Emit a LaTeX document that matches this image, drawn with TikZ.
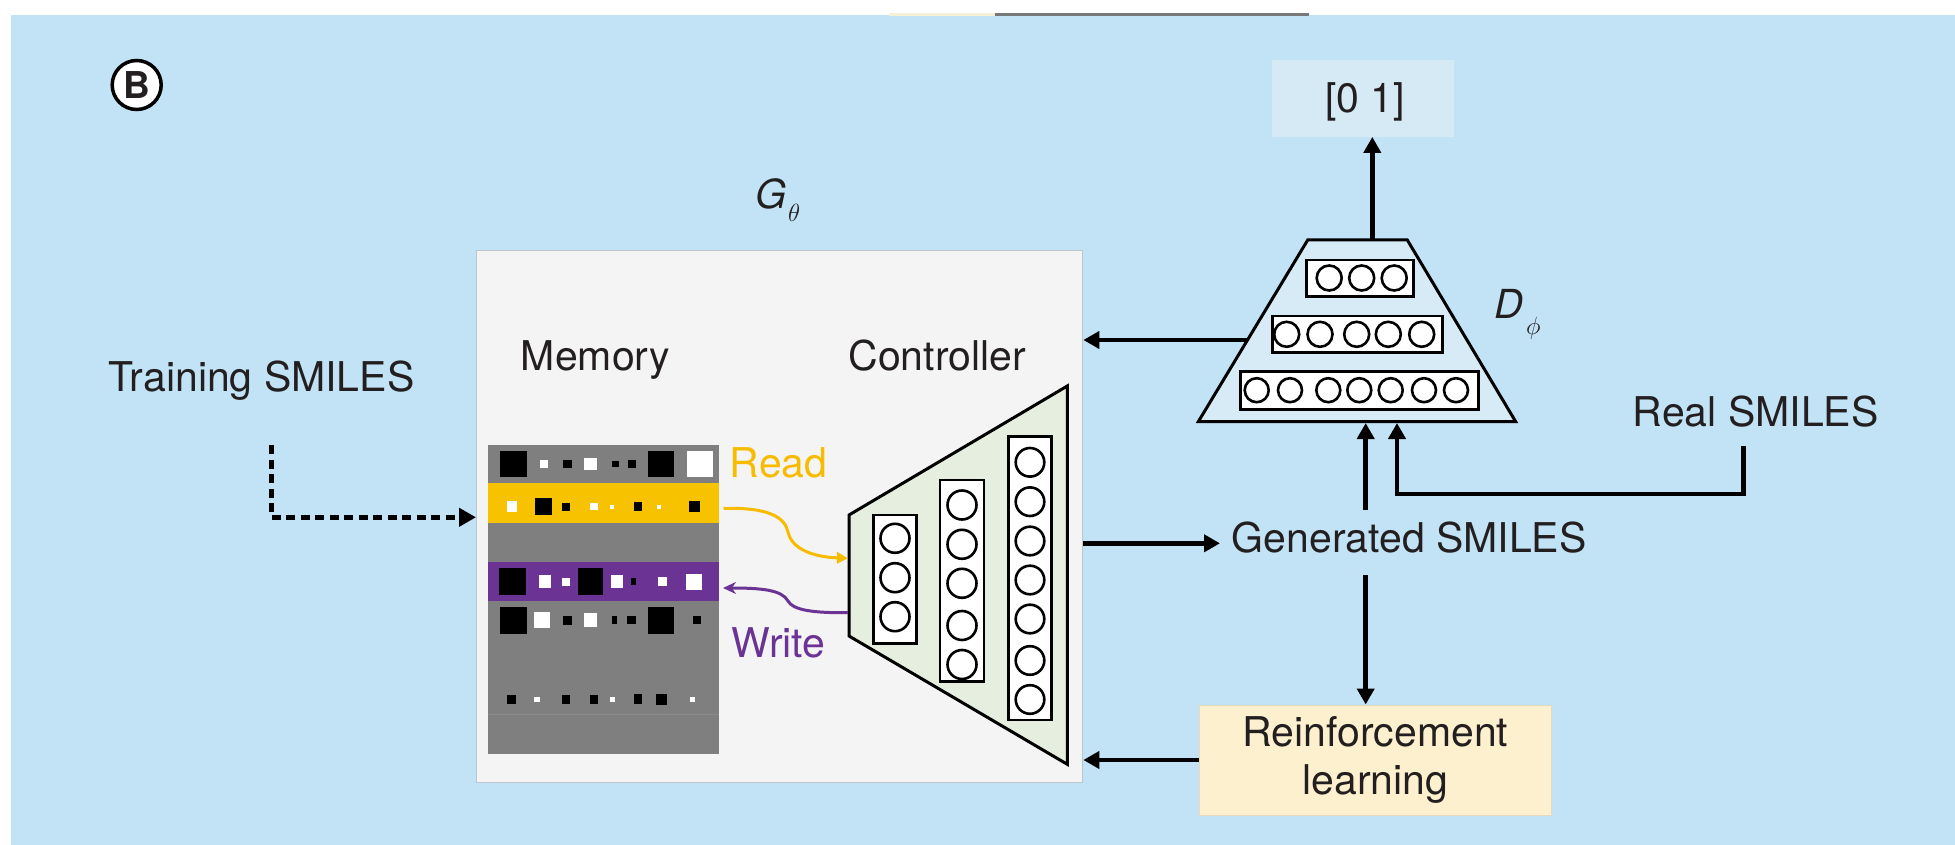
\documentclass[tikz,border=0pt]{standalone}
\usepackage{fontspec}
\setmainfont{TeX Gyre Heros}
\usetikzlibrary{arrows.meta}

\definecolor{bgblue}{RGB}{194,226,245}
\definecolor{ink}{RGB}{35,31,32}
\definecolor{boxgray}{RGB}{244,244,244}
\definecolor{boxedge}{RGB}{190,198,204}
\definecolor{memgray}{RGB}{127,127,127}
\definecolor{memline}{RGB}{138,138,138}
\definecolor{memyellow}{RGB}{247,194,0}
\definecolor{mempurple}{RGB}{107,51,148}
\definecolor{readc}{RGB}{247,188,0}
\definecolor{ctlgreen}{RGB}{230,239,223}
\definecolor{discblue}{RGB}{214,235,246}
\definecolor{outblue}{RGB}{214,234,245}
\definecolor{rlcream}{RGB}{253,240,206}
\definecolor{rledge}{RGB}{228,218,190}
\definecolor{topgray}{RGB}{120,120,120}
\definecolor{topcream}{RGB}{246,240,214}

\tikzset{
  lbl/.style={font=\fontsize{41}{48.3}\selectfont, text=ink, inner sep=0pt},
  arr/.style={draw=black, line width=4.5pt, -{Triangle[length=16pt,width=17pt]}},
  unit/.style={draw=black, line width=2.6pt, fill=white},
  layerbox/.style={draw=black, line width=2.6pt, fill=white},
  trap/.style={draw=black, line width=3pt, line join=miter},
}

\begin{document}
\begin{tikzpicture}[x=1pt,y=-1pt]
\useasboundingbox (0,0) rectangle (1955,845);

% page and panel background
\fill[white] (0,0) rectangle (1955,845);
\fill[bgblue] (11,15) rectangle (1955,845);
\fill[topcream] (889,13.5) rectangle (995,16);
\fill[topgray] (995,13.5) rectangle (1309,16);

% panel letter
\node[circle, draw=black, line width=3.5pt, fill=white, minimum size=49pt,
      inner sep=0pt, text=ink, font=\fontsize{37}{37}\selectfont\bfseries] (panel) at (136.7,85) {B};

% generator frame
\node[draw=boxedge, fill=boxgray, line width=1.5pt, inner sep=0pt,
      minimum width=606pt, minimum height=532pt] (G) at (779.6,516.6) {};
\node[lbl, font=\fontsize{40}{40}\selectfont\itshape, anchor=base west] (gname) at (755,208.3) {G};
\node[inner sep=0pt, text=ink, font=\fontsize{27}{27}\selectfont, anchor=base west] (gsub) at (788,222) {$\theta$};

\node[lbl, anchor=base west] (memlbl) at (520.7,370) {Memory};
\node[lbl, anchor=base west] (ctllbl) at (848.3,370) {Controller};

% memory matrix
\node[fill=memgray, inner sep=0pt, minimum width=230.4pt, minimum height=309.3pt] (mem) at (603.5,599.65) {};
\fill[memyellow] (488.3,483.3) rectangle (718.7,522.7);
\fill[mempurple] (488.3,562.3) rectangle (718.7,601);
\draw[memline, line width=1pt] (488.3,714.5) -- (718.7,714.5);

% memory cells: black
\foreach \a/\b/\c/\d in {
  500/450.7/526.7/477.3, 563.3/459.8/571.7/468.2, 612.3/460.7/619/467.3,
  627.7/459.8/636/468.2, 647.7/450.7/674.3/477.3,
  535/498.3/551.7/515, 562.3/502.8/570/510.5, 634.3/502.3/641.7/511, 689.3/501.3/700/512,
  499.3/568.3/526/595, 577.7/568.3/603.3/595, 631/578/636/585.3,
  500/606.7/526.7/634, 562.7/615.5/571.7/624.5, 611.7/616.2/616.7/623.8,
  627.3/615.7/636/624.3, 647.7/606.7/674.3/634, 692.7/616/700.7/624,
  507.3/695.2/515.7/703.5, 561.7/695.2/570/703.5, 590/695.2/598.3/703.5,
  634.3/694.3/642.3/704.3, 656/694/666.7/704.7}
  \fill[black] (\a,\b) rectangle (\c,\d);
% memory cells: white
\foreach \a/\b/\c/\d in {
  540/459.8/548.3/468.2, 584.3/457.8/596.7/470.2, 687.3/451.3/712.7/476.7,
  506.7/501.3/517.3/512, 590/503.3/597.7/510, 610/504.5/614.3/508.8, 656.7/504.7/660.7/508.7,
  539.3/575/551/588.3, 561.7/577.5/570/585.8, 611/575/622.7/588.3,
  658.3/577.2/667.3/586.2, 686/574/701.7/590,
  534/611.7/550/628.3, 584.3/613.3/596.7/627.3,
  534.3/696.5/540/702.2, 610/696.8/615/701.8, 690/696.8/695/701.8}
  \fill[white] (\a,\b) rectangle (\c,\d);

% controller network
\coordinate (cTL) at (849,515);
\coordinate (cTR) at (1067.3,386);
\coordinate (cBR) at (1067.3,764.3);
\coordinate (cBL) at (849,636);
\filldraw[trap, fill=ctlgreen] (cTL) -- (cTR) -- (cBR) -- (cBL) -- cycle;

\node[layerbox, inner sep=0pt, minimum width=43.4pt, minimum height=128.3pt] (c1) at (895,579.2) {};
\node[layerbox, inner sep=0pt, minimum width=44pt, minimum height=201.7pt] (c2) at (962,580.85) {};
\node[layerbox, inner sep=0pt, minimum width=43.4pt, minimum height=283.3pt] (c3) at (1030,578.35) {};
\foreach \y in {538.3,577.7,616.7} \draw[unit] (895,\y) circle[radius=14.5pt];
\foreach \y in {505,544.3,583.3,625.5,664.5} \draw[unit] (962,\y) circle[radius=14.5pt];
\foreach \y in {462.3,501.7,541,580,619,660.5,699.5} \draw[unit] (1030,\y) circle[radius=14.3pt];

% read / write heads
\coordinate (rdA) at (723.6,508.5);
\coordinate (rdB) at (848,558.3);
\coordinate (wrA) at (848,612.7);
\coordinate (wrB) at (723,588);
\draw[readc, line width=3pt, -{Triangle[length=11pt,width=11pt]}]
  (rdA) .. controls (770,507) and (785,518) .. (788,532)
        .. controls (792,550) and (815,557) .. (rdB);
\draw[mempurple, line width=3pt, -{Stealth[length=13pt,width=12pt]}]
  (wrA) .. controls (812,613) and (793,610) .. (788,601)
        .. controls (782,590) and (762,588) .. (wrB);
\node[lbl, text=readc, anchor=base west] (readlbl) at (729.6,477.3) {Read};
\node[lbl, text=mempurple, anchor=base west] (writelbl) at (731.5,657.3) {Write};

% training input
\node[lbl, anchor=base west] (train) at (108.3,391.7) {Training SMILES};
\coordinate (trainout) at (271.7,445);
\coordinate (memin) at (476,517.3);
\draw[line width=4.5pt, dash pattern=on 9pt off 5.5pt, -{Triangle[length=17pt,width=18pt]}]
  (trainout) |- (memin);

% discriminator
\coordinate (dBL) at (1198.3,421.7);
\coordinate (dTL) at (1307.7,240);
\coordinate (dTR) at (1407.3,240);
\coordinate (dBR) at (1515.7,421.7);
\filldraw[trap, fill=discblue] (dBL) -- (dTL) -- (dTR) -- (dBR) -- cycle;
\node[layerbox, inner sep=0pt, minimum width=106.6pt, minimum height=36.7pt] (d1) at (1360,278.35) {};
\node[layerbox, inner sep=0pt, minimum width=169.6pt, minimum height=36.7pt] (d2) at (1357.5,334.35) {};
\node[layerbox, inner sep=0pt, minimum width=237.6pt, minimum height=37.6pt] (d3) at (1359.5,390.5) {};
\foreach \x in {1329.2,1361.7,1394.2} \draw[unit] (\x,278) circle[radius=12.5pt];
\foreach \x in {1286.7,1320,1356.7,1388.3,1421.7} \draw[unit] (\x,334.3) circle[radius=12.5pt];
\foreach \x in {1256.7,1290,1328.3,1359.3,1390.7,1424,1456} \draw[unit] (\x,390.2) circle[radius=12pt];
\node[lbl, font=\fontsize{40}{40}\selectfont\itshape, anchor=base west] (dname) at (1494.5,318.3) {D};
\node[inner sep=0pt, text=ink, font=\fontsize{24}{24}\selectfont, anchor=base west] (dsub) at (1526,334) {$\phi$};

% discriminator output
\node[fill=outblue, inner sep=0pt, minimum width=181.7pt, minimum height=76.7pt] (out) at (1363.2,98.35) {};
\node[lbl] (outlbl) at (1365,101.7) {[0 1]};
\coordinate (dtop) at (1372.3,240);
\draw[arr] (dtop) -- (dtop |- out.south);

% discriminator feedback to generator
\coordinate (dleft) at (1247.5,340);
\draw[arr] (dleft) -- (dleft -| G.east);

% generated samples
\node[lbl, anchor=base west] (gen) at (1231.7,552.7) {Generated SMILES};
\coordinate (genin) at (1220,543.3);
\draw[arr] (genin -| G.east) -- (genin);
\coordinate (genup) at (1365.7,510);
\coordinate (dinA) at (1365.7,423);
\draw[arr] (genup) -- (dinA);

% real samples
\node[lbl, anchor=base west] (real) at (1632.7,426.7) {Real SMILES};
\coordinate (realout) at (1743.3,446);
\coordinate (realturn) at (1743.3,494);
\coordinate (dinB) at (1397,423);
\draw[arr, line join=miter] (realout) -- (realturn) -| (dinB);

% reinforcement learning
\node[lbl, draw=rledge, line width=1pt, fill=rlcream, align=center,
      minimum width=352.4pt, minimum height=110pt] (rl) at (1375.5,760) {Reinforcement\\learning};
\coordinate (gendown) at (1365.7,575);
\draw[arr] (gendown) -- (gendown |- rl.north);
\draw[arr] (rl.west) -- (rl.west -| G.east);

\end{tikzpicture}
\end{document}
